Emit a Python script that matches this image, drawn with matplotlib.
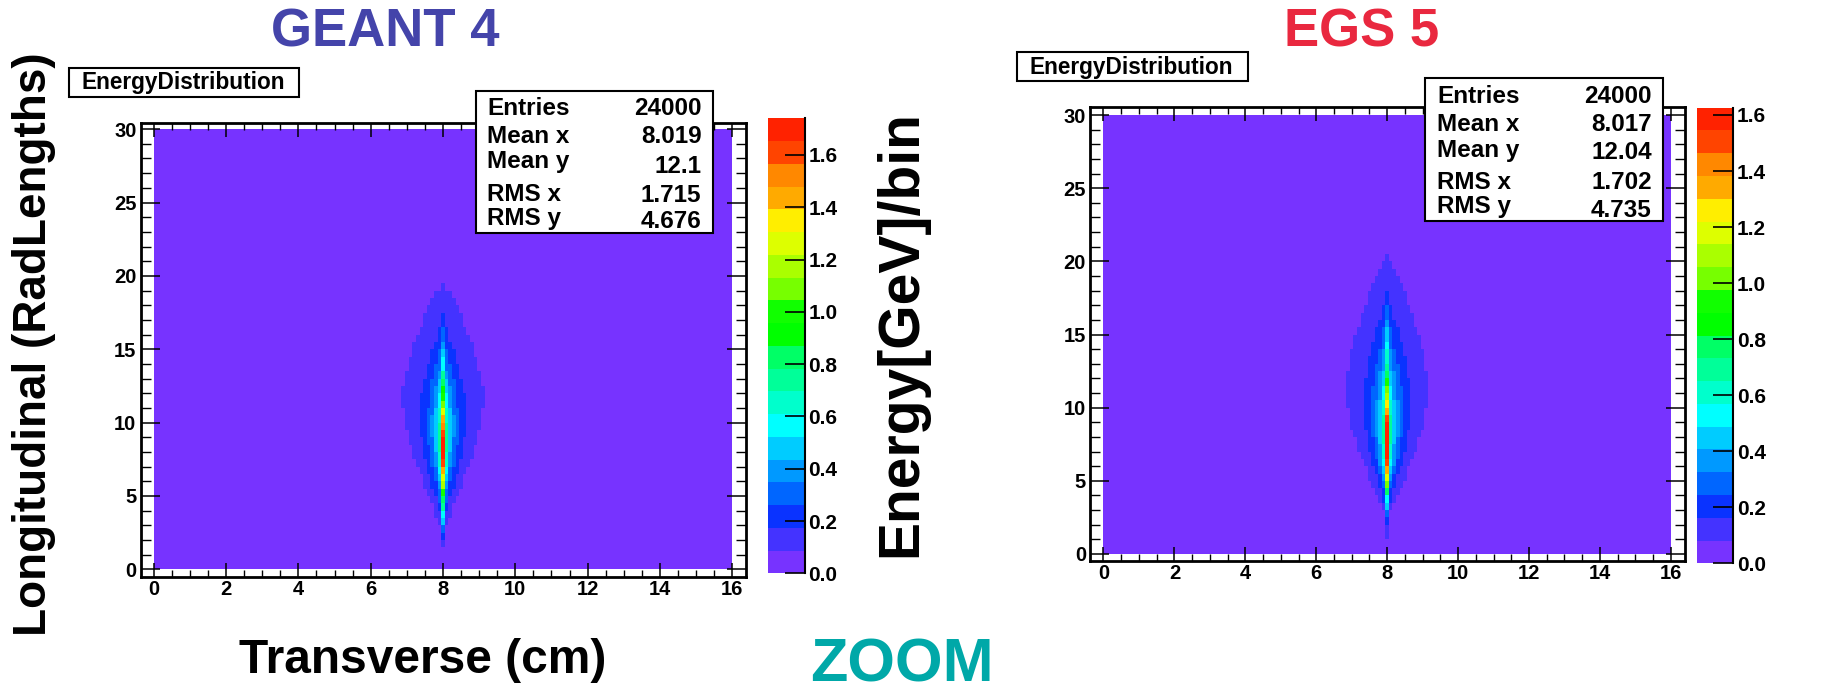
import numpy as np
import matplotlib
matplotlib.use("Agg")
import matplotlib.pyplot as plt
from matplotlib.colors import ListedColormap, BoundaryNorm
from matplotlib.patches import Rectangle
from matplotlib.ticker import MultipleLocator, FormatStrFormatter

# ---------------- data ----------------
# longitudinal bins (RadLengths), 0.5 RL wide; rows listed from 0.25 to 20.25
depth_rows = [0.25 + 0.5 * i for i in range(41)]

# GEANT4: energy in the central transverse bin (GeV/bin) per depth row
g4_core = [0.02, 0.03, 0.06, 0.12, 0.22, 0.33, 0.45, 0.58, 0.70, 0.85,
           1.00, 1.15, 1.30, 1.45, 1.60, 1.70, 1.74, 1.72, 1.65, 1.55,
           1.40, 1.25, 1.10, 1.00, 0.90, 0.80, 0.70, 0.60, 0.53, 0.47,
           0.40, 0.33, 0.29, 0.24, 0.20, 0.16, 0.14, 0.12, 0.10, 0.06, 0.03]
# GEANT4: half-width (cm) of the outermost coloured contour per depth row
g4_halo = [0.00, 0.00, 0.00, 0.05, 0.05, 0.10, 0.15, 0.20, 0.30, 0.37,
           0.45, 0.53, 0.60, 0.68, 0.75, 0.82, 0.87, 0.93, 0.99, 1.03,
           1.07, 1.10, 1.12, 1.13, 1.11, 1.08, 1.04, 0.99, 0.93, 0.87,
           0.80, 0.73, 0.66, 0.60, 0.53, 0.45, 0.38, 0.28, 0.08, 0.00, 0.00]

# EGS5
egs_core = [0.02, 0.04, 0.10, 0.15, 0.22, 0.32, 0.42, 0.55, 0.75, 1.00,
            1.20, 1.38, 1.48, 1.55, 1.60, 1.626, 1.60, 1.55, 1.47, 1.35,
            1.22, 1.10, 1.00, 0.90, 0.80, 0.72, 0.65, 0.58, 0.53, 0.48,
            0.43, 0.36, 0.31, 0.26, 0.22, 0.19, 0.16, 0.14, 0.12, 0.10, 0.09]
egs_halo = [0.00, 0.00, 0.04, 0.04, 0.05, 0.07, 0.15, 0.24, 0.33, 0.42,
            0.51, 0.59, 0.67, 0.74, 0.81, 0.87, 0.94, 1.00, 1.04, 1.09,
            1.12, 1.14, 1.16, 1.15, 1.12, 1.09, 1.06, 1.01, 0.96, 0.92,
            0.86, 0.80, 0.74, 0.67, 0.60, 0.52, 0.45, 0.37, 0.27, 0.12, 0.06]

g4_zmax = 1.740
egs_zmax = 1.626
background_level = 0.02      # GeV/bin everywhere outside the shower core
transverse_exponent = 0.55   # shape of transverse fall-off (stretched exp)

g4_stats = [("Entries", "24000"), ("Mean x", "8.019"), ("Mean y", "12.1"),
            ("RMS x", "1.715"), ("RMS y", "4.676")]
egs_stats = [("Entries", "24000"), ("Mean x", "8.017"), ("Mean y", "12.04"),
             ("RMS x", "1.702"), ("RMS y", "4.735")]

palette = ['#7733ff', '#4433ff', '#0a33ff', '#0066ff', '#0099ff', '#00ccff',
           '#00ffff', '#00ffcc', '#00ff99', '#00ff66', '#00ff00', '#11ff00',
           '#77ff00', '#aaff00', '#ddff00', '#ffee00', '#ffaa00', '#ff8800',
           '#ff4400', '#ff2200']
cbar_ticks = [0.0, 0.2, 0.4, 0.6, 0.8, 1.0, 1.2, 1.4, 1.6]

# ---------------- figure ----------------
W, H = 1846, 694
plt.rcParams['font.family'] = ['Liberation Sans', 'DejaVu Sans']
plt.rcParams['font.weight'] = 'bold'

fig = plt.figure(figsize=(W / 100, H / 100), dpi=100)
fig.patch.set_facecolor('white')


def fx(px):
    return px / W


def fy(py):
    return 1 - py / H


def axes_px(x0, y0, x1, y1):
    return fig.add_axes([fx(x0), fy(y1), (x1 - x0) / W, (y1 - y0) / H])


# bins: 0.1 cm transverse (one bin centred on x = 8), 0.5 RL longitudinal
k = np.arange(-80, 81)
x_edges = np.clip(8.0 + 0.1 * np.arange(-80.5, 81.0, 1.0), 0, 16)
d = np.abs(0.1 * k)
y_edges = np.arange(0, 30.01, 0.5)


def build_grid(core, halo, zmax):
    L1 = zmax / 20.0
    grid = np.full((len(y_edges) - 1, len(d)), background_level)
    for i, (P, Wd) in enumerate(zip(core, halo)):
        if Wd > 0 and P > L1:
            s = Wd / np.log(P / L1) ** (1.0 / transverse_exponent)
        else:
            s = 0.03
        row = P * np.exp(-(d / s) ** transverse_exponent)
        grid[i] = np.maximum(row, background_level)
    return grid


def draw_panel(ax_box, cb_box, xlim, ylim, core, halo, zmax, title,
               title_color, title_x, hist_box, hist_text, stats_box,
               stats_x, label_base, value_base, stats):
    ax = axes_px(*ax_box)
    levels = np.linspace(0, zmax, 21)
    cmap = ListedColormap(palette)
    norm = BoundaryNorm(levels, cmap.N)
    grid = build_grid(core, halo, zmax)
    mesh = ax.pcolormesh(x_edges, y_edges, grid, cmap=cmap, norm=norm,
                         shading='flat', antialiased=False, linewidth=0,
                         rasterized=True)
    ax.set_xlim(*xlim)
    ax.set_ylim(*ylim)
    ax.set_facecolor('white')
    for sp in ax.spines.values():
        sp.set_linewidth(2)
    ax.xaxis.set_major_locator(MultipleLocator(2))
    ax.xaxis.set_minor_locator(MultipleLocator(0.5))
    ax.yaxis.set_major_locator(MultipleLocator(5))
    ax.yaxis.set_minor_locator(MultipleLocator(1))
    ax.tick_params(axis='x', which='major', direction='in', top=True,
                   bottom=True, length=10, width=1.1, labelsize=14.5, pad=2)
    ax.tick_params(axis='x', which='minor', direction='in', top=True,
                   bottom=True, length=5, width=1.0)
    ax.tick_params(axis='y', which='major', direction='in', left=True,
                   right=True, length=13.5, width=1.1, labelsize=14.5, pad=3)
    ax.tick_params(axis='y', which='minor', direction='in', left=True,
                   right=True, length=7, width=1.0)
    for t in ax.get_xticklabels() + ax.get_yticklabels():
        t.set_fontweight('bold')

    cax = axes_px(*cb_box)
    cb = fig.colorbar(mesh, cax=cax, boundaries=levels, ticks=cbar_ticks)
    cb.outline.set_visible(False)
    cb.minorticks_off()
    cax.yaxis.set_ticks_position('right')
    cax.yaxis.set_major_formatter(FormatStrFormatter('%.1f'))
    cax.tick_params(direction='in', length=14.4, width=1.2, labelsize=15,
                    pad=2.5, colors='black')
    cax.plot([1, 1], [0, 1], transform=cax.transAxes, color='black', lw=1.5,
             clip_on=False)

    fig.text(fx(title_x), fy(46.7), title, ha='center', va='baseline',
             fontsize=38, color=title_color, fontweight='bold')

    x0, y0, x1, y1 = hist_box
    fig.add_artist(Rectangle((fx(x0), fy(y1)), (x1 - x0) / W, (y1 - y0) / H,
                             transform=fig.transFigure, facecolor='white',
                             edgecolor='black', lw=1.5, zorder=5))
    fig.text(fx(hist_text[0]), fy(hist_text[1]), "EnergyDistribution",
             ha='left', va='baseline', fontsize=16.3, zorder=6)

    x0, y0, x1, y1 = stats_box
    fig.add_artist(Rectangle((fx(x0), fy(y1)), (x1 - x0) / W, (y1 - y0) / H,
                             transform=fig.transFigure, facecolor='white',
                             edgecolor='black', lw=1.5, zorder=5))
    for (lab, val), lb, vb in zip(stats, label_base, value_base):
        fig.text(fx(stats_x[0]), fy(lb), lab, ha='left', va='baseline',
                 fontsize=17.5, zorder=6)
        fig.text(fx(stats_x[1]), fy(vb), val, ha='right', va='baseline',
                 fontsize=17.5, zorder=6)
    return ax


draw_panel(ax_box=(140.6, 122.7, 746.3, 577.3),
           cb_box=(768.3, 118.3, 805.0, 573.3),
           xlim=(-0.365, 16.39), ylim=(-0.55, 30.44),
           core=g4_core, halo=g4_halo, zmax=g4_zmax,
           title="GEANT 4", title_color='#4444aa', title_x=385,
           hist_box=(68.9, 67.7, 298.5, 96.7), hist_text=(81.6, 89.3),
           stats_box=(476, 90.7, 713, 232.7), stats_x=(487, 701.5),
           label_base=[115, 143.3, 168.3, 201, 225],
           value_base=[115, 143.3, 173, 201.7, 228],
           stats=g4_stats)

draw_panel(ax_box=(1090.2, 106.7, 1685.4, 561.0),
           cb_box=(1697.3, 107.7, 1733.3, 563.3),
           xlim=(-0.375, 16.41), ylim=(-0.48, 30.57),
           core=egs_core, halo=egs_halo, zmax=egs_zmax,
           title="EGS 5", title_color='#e9283f', title_x=1362,
           hist_box=(1016.8, 51.7, 1248.0, 80.7), hist_text=(1029.6, 74),
           stats_box=(1425.4, 78.3, 1663.4, 221.0), stats_x=(1436.9, 1651.8),
           label_base=[102.7, 130.7, 157.3, 189.3, 213.3],
           value_base=[102.7, 130.7, 159.3, 189.3, 216.7],
           stats=egs_stats)

fig.text(fx(34.4), fy(344.5), "Longitudinal (RadLengths)", rotation=90,
         ha='center', va='center', fontsize=33, fontweight='bold')
fig.text(fx(423), fy(673), "Transverse (cm)", ha='center', va='baseline',
         fontsize=34.5, fontweight='bold')
fig.text(fx(901), fy(334), "Energy[GeV]/bin", rotation=90, ha='center',
         va='center', fontsize=41, fontweight='bold')
fig.text(fx(902), fy(681), "ZOOM", ha='center', va='baseline', fontsize=44,
         color='#00a8a8', fontweight='bold')

fig.savefig("out.png", dpi=100)
